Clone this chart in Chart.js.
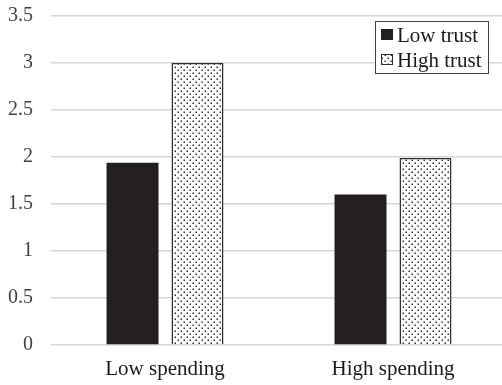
<!DOCTYPE html>
<html>
<head>
<meta charset="utf-8">
<script src="https://cdn.jsdelivr.net/npm/chart.js@4/dist/chart.umd.min.js"></script>
<style>
  html, body { margin: 0; padding: 0; background: #ffffff; overflow: hidden; }
  #wrap { width: 502px; height: 385px; overflow: hidden; }
</style>
</head>
<body>
<div id="wrap"><canvas id="chart" width="507" height="385"></canvas></div>
<script>
// Chart data
const categories = ['Low spending', 'High spending'];
const seriesNames = ['Low trust', 'High trust'];
const lowTrust = [1.94, 1.6];
const highTrust = [3.0, 1.99];
const yTicks = [0, 0.5, 1, 1.5, 2, 2.5, 3, 3.5];

const FONT = '"Liberation Serif", "Times New Roman", serif';

// Stippled fill used for the "High trust" series
function dotPattern() {
  const c = document.createElement('canvas');
  c.width = 6; c.height = 6;
  const g = c.getContext('2d');
  g.fillStyle = '#ffffff';
  g.fillRect(0, 0, 6, 6);
  g.fillStyle = '#333333';
  g.fillRect(0.5, 0.5, 1.5, 1.5);
  g.fillRect(3.5, 3.5, 1.5, 1.5);
  return g.createPattern(c, 'repeat');
}
const dots = dotPattern();

// Boxed legend drawn inside the plot area, top right
const boxLegend = {
  id: 'boxLegend',
  afterDraw(chart) {
    const ctx = chart.ctx;
    const x = 375, y = 21, w = 113, h = 52;
    ctx.save();
    ctx.fillStyle = '#ffffff';
    ctx.fillRect(x, y, w, h);
    ctx.strokeStyle = '#404040';
    ctx.lineWidth = 1;
    ctx.strokeRect(x + 0.5, y + 0.5, w, h);
    ctx.font = '21px ' + FONT;
    ctx.textBaseline = 'middle';
    chart.data.datasets.forEach((ds, i) => {
      const cy = y + 14 + i * 25;
      ctx.fillStyle = ds.backgroundColor;
      ctx.fillRect(x + 6, cy - 6, 12, 11);
      if (ds.borderWidth) {
        ctx.strokeStyle = ds.borderColor;
        ctx.lineWidth = 1;
        ctx.strokeRect(x + 6.5, cy - 5.5, 11, 10);
      }
      ctx.fillStyle = '#1a1a1a';
      ctx.fillText(ds.label, x + 22, cy + 1);
    });
    ctx.restore();
  }
};

new Chart(document.getElementById('chart'), {
  type: 'bar',
  data: {
    labels: categories,
    datasets: [
      {
        label: seriesNames[0],
        data: lowTrust,
        backgroundColor: '#231f20',
        borderWidth: 0,
        barPercentage: 0.8,
        categoryPercentage: 0.57
      },
      {
        label: seriesNames[1],
        data: highTrust,
        backgroundColor: dots,
        borderColor: '#2e2e2e',
        borderWidth: 1.5,
        barPercentage: 0.8,
        categoryPercentage: 0.57
      }
    ]
  },
  options: {
    responsive: false,
    animation: false,
    layout: { padding: { top: 16, right: 0, left: 0, bottom: 0 } },
    plugins: { legend: { display: false }, tooltip: { enabled: false } },
    scales: {
      x: {
        grid: { display: false, drawTicks: false },
        border: { display: false },
        ticks: { color: '#1a1a1a', font: { family: FONT, size: 21 }, padding: 12 },
        afterFit(s) { s.height = 40; s.paddingLeft = 0; s.paddingRight = 0; }
      },
      y: {
        min: 0,
        max: 3.5,
        afterBuildTicks(s) { s.ticks = yTicks.map(v => ({ value: v })); },
        grid: { color: '#d6d6d6', lineWidth: 1.5, drawTicks: false },
        border: { display: false },
        ticks: {
          color: '#404040',
          font: { family: FONT, size: 20 },
          padding: 18,
          callback: v => String(v)
        },
        afterFit(s) { s.width = 51; s.paddingTop = 0; s.paddingBottom = 0; }
      }
    }
  },
  plugins: [boxLegend]
});
</script>
</body>
</html>
